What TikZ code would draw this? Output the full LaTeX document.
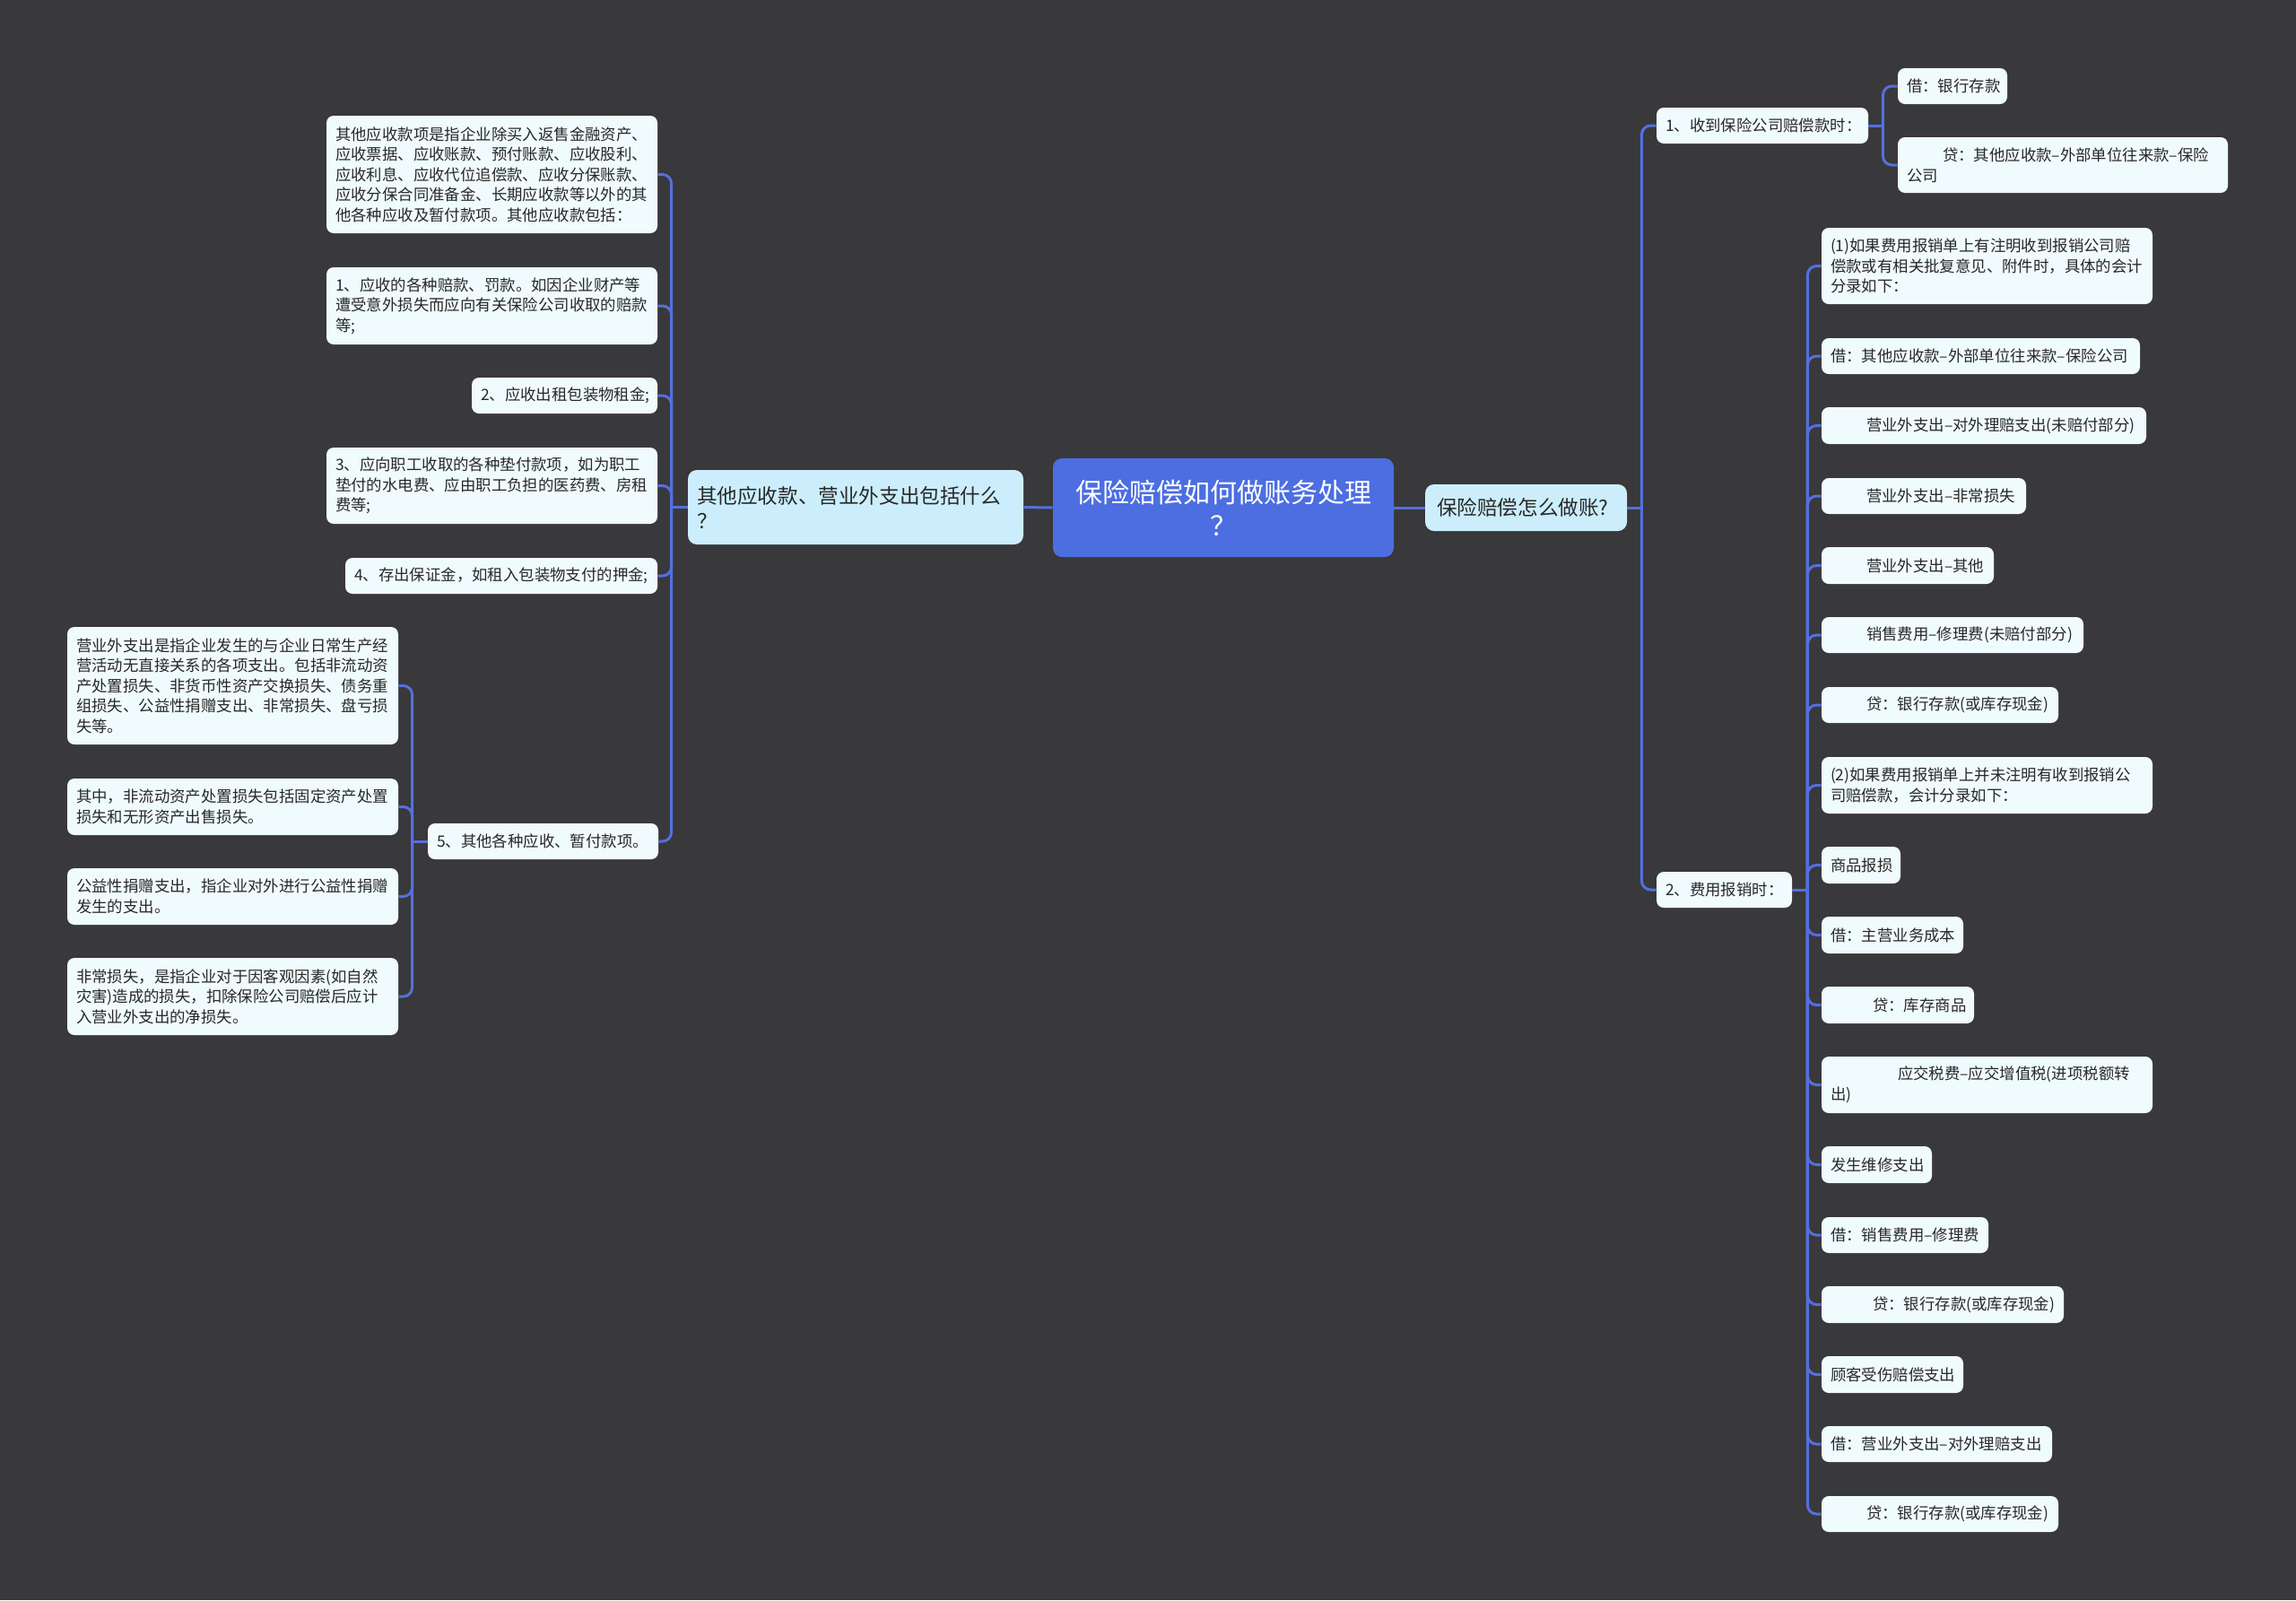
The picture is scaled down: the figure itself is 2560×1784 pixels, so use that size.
\documentclass[tikz,border=0pt]{standalone}
\usepackage{fontspec}
\setmainfont{Noto Sans CJK SC}
\definecolor{bg}{RGB}{57,56,58}
\definecolor{linec}{RGB}{84,112,222}
\definecolor{rootfill}{RGB}{76,110,224}
\definecolor{lonefill}{RGB}{204,238,252}
\definecolor{leaffill}{RGB}{240,251,253}
\definecolor{txt}{RGB}{40,40,40}
\newcommand\bx[7]{%
  \pgfmathsetmacro\bw{(#5-#3)*0.5}%
  \pgfmathsetmacro\bh{(#6-#4)*0.5}%
  \pgfmathsetmacro\btw{\bw-10}%
  \node[#1, minimum width=\bw pt, minimum height=\bh pt, text width=\btw pt] (#2) at ({(#3+#5)/2},{(#4+#6)/2}) {#7};%
}
\newcommand\ia{\hspace*{20pt}}
\newcommand\ib{\hspace*{23.5pt}}
\newcommand\ic{\hspace*{37.5pt}}
\tikzset{
  leaf/.style={fill=leaffill, rounded corners=4pt, inner xsep=5pt, inner ysep=0pt, align=left, text=txt, font=\fontsize{8.7}{11.25}\selectfont},
  mainbox/.style={fill=lonefill, rounded corners=5pt, inner xsep=5pt, inner ysep=0pt, align=left, text=txt, font=\fontsize{11.3}{14}\selectfont},
  rootbox/.style={fill=rootfill, rounded corners=5pt, inner xsep=5pt, inner ysep=0pt, align=center, text=white, font=\fontsize{15}{18.5}\selectfont},
  conn/.style={draw=linec, line width=1.5pt},
  rc/.style={conn, rounded corners=5pt},
}
\begin{document}
\begin{tikzpicture}[x=0.5pt,y=-0.5pt]
\fill[bg] (0,0) rectangle (2560,1784);
\useasboundingbox (0,0) rectangle (2560,1784);

% main nodes
\bx{rootbox}{root}{1174}{511}{1554}{621}{保险赔偿如何做账务处理\\？}
\bx{mainbox}{L}{767}{524}{1141}{607}{其他应收款、营业外支出包括什么\\？}
\bx{mainbox}{R}{1589}{540}{1814}{592}{\hspace*{1.5pt}保险赔偿怎么做账?}

% right side
\bx{leaf}{r1}{1847}{120}{2083}{160}{1、收到保险公司赔偿款时：}
\bx{leaf}{r1a}{2116}{76}{2238}{116}{借：银行存款}
\bx{leaf}{r1b}{2116}{153}{2484}{215}{\ia 贷：其他应收款–外部单位往来款–保险\\公司}
\bx{leaf}{r2}{1847}{972}{1998}{1012}{2、费用报销时：}

\bx{leaf}{c1}{2031}{254}{2400}{339}{(1)如果费用报销单上有注明收到报销公司赔\\偿款或有相关批复意见、附件时，具体的会计\\分录如下：}
\bx{leaf}{c2}{2031}{377}{2386}{417}{借：其他应收款–外部单位往来款–保险公司}
\bx{leaf}{c3}{2031}{454}{2393}{495}{\ia 营业外支出–对外理赔支出(未赔付部分)}
\bx{leaf}{c4}{2031}{533}{2259}{573}{\ia 营业外支出–非常损失}
\bx{leaf}{c5}{2031}{610}{2223}{651}{\ia 营业外支出–其他}
\bx{leaf}{c6}{2031}{688}{2323}{728}{\ia 销售费用–修理费(未赔付部分)}
\bx{leaf}{c7}{2031}{766}{2295}{806}{\ia 贷：银行存款(或库存现金)}
\bx{leaf}{c8}{2031}{844}{2400}{907}{(2)如果费用报销单上并未注明有收到报销公\\司赔偿款，会计分录如下：}
\bx{leaf}{c9}{2031}{944}{2119}{985}{商品报损}
\bx{leaf}{c10}{2031}{1022}{2189}{1063}{借：主营业务成本}
\bx{leaf}{c11}{2031}{1100}{2201}{1141}{\ib 贷：库存商品}
\bx{leaf}{c12}{2031}{1178}{2400}{1241}{\ic 应交税费–应交增值税(进项税额转\\出)}
\bx{leaf}{c13}{2031}{1278}{2154}{1319}{发生维修支出}
\bx{leaf}{c14}{2031}{1357}{2217}{1397}{借：销售费用–修理费}
\bx{leaf}{c15}{2031}{1434}{2301}{1475}{\ib 贷：银行存款(或库存现金)}
\bx{leaf}{c16}{2031}{1512}{2189}{1553}{顾客受伤赔偿支出}
\bx{leaf}{c17}{2031}{1590}{2288}{1630}{借：营业外支出–对外理赔支出}
\bx{leaf}{c18}{2031}{1668}{2295}{1708}{\ia 贷：银行存款(或库存现金)}

% left side
\bx{leaf}{l0}{364}{129}{733}{260}{其他应收款项是指企业除买入返售金融资产、\\应收票据、应收账款、预付账款、应收股利、\\应收利息、应收代位追偿款、应收分保账款、\\应收分保合同准备金、长期应收款等以外的其\\他各种应收及暂付款项。其他应收款包括：}
\bx{leaf}{l1}{364}{298}{733}{384}{1、应收的各种赔款、罚款。如因企业财产等\\遭受意外损失而应向有关保险公司收取的赔款\\等;}
\bx{leaf}{l2}{526}{421}{733}{461}{2、应收出租包装物租金;}
\bx{leaf}{l3}{364}{499}{733}{584}{3、应向职工收取的各种垫付款项，如为职工\\垫付的水电费、应由职工负担的医药费、房租\\费等;}
\bx{leaf}{l4}{385}{622}{733}{662}{4、存出保证金，如租入包装物支付的押金;}
\bx{leaf}{l5}{477}{918}{734}{958}{5、其他各种应收、暂付款项。}

\bx{leaf}{lA}{75}{699}{444}{830}{营业外支出是指企业发生的与企业日常生产经\\营活动无直接关系的各项支出。包括非流动资\\产处置损失、非货币性资产交换损失、债务重\\组损失、公益性捐赠支出、非常损失、盘亏损\\失等。}
\bx{leaf}{lB}{75}{868}{444}{931}{其中，非流动资产处置损失包括固定资产处置\\损失和无形资产出售损失。}
\bx{leaf}{lC}{75}{968}{444}{1031}{公益性捐赠支出，指企业对外进行公益性捐赠\\发生的支出。}
\bx{leaf}{lD}{75}{1068}{444}{1154}{非常损失，是指企业对于因客观因素(如自然\\灾害)造成的损失，扣除保险公司赔偿后应计\\入营业外支出的净损失。}

% connectors
\draw[conn] (root.west) -- (L.east);
\draw[conn] (root.east) -- (R.west);

\draw[conn] (R.east) -- ++(16,0) coordinate (jR);
\foreach \c in {r1,r2} \draw[rc] (jR) |- (\c.west);

\draw[conn] (r1.east) -- ++(16,0) coordinate (j1);
\foreach \c in {r1a,r1b} \draw[rc] (j1) |- (\c.west);

\draw[conn] (r2.east) -- ++(17,0) coordinate (j2);
\foreach \c in {c1,c2,c3,c4,c5,c6,c7,c8,c9,c10,c11,c12,c13,c14,c15,c16,c17,c18} \draw[rc] (j2) |- (\c.west);

\draw[conn] (L.west) -- ++(-18,0) coordinate (jL);
\foreach \c in {l0,l1,l2,l3,l4,l5} \draw[rc] (jL) |- (\c.east);

\draw[conn] (l5.west) -- ++(-17,0) coordinate (j5);
\foreach \c in {lA,lB,lC,lD} \draw[rc] (j5) |- (\c.east);
\end{tikzpicture}
\end{document}
